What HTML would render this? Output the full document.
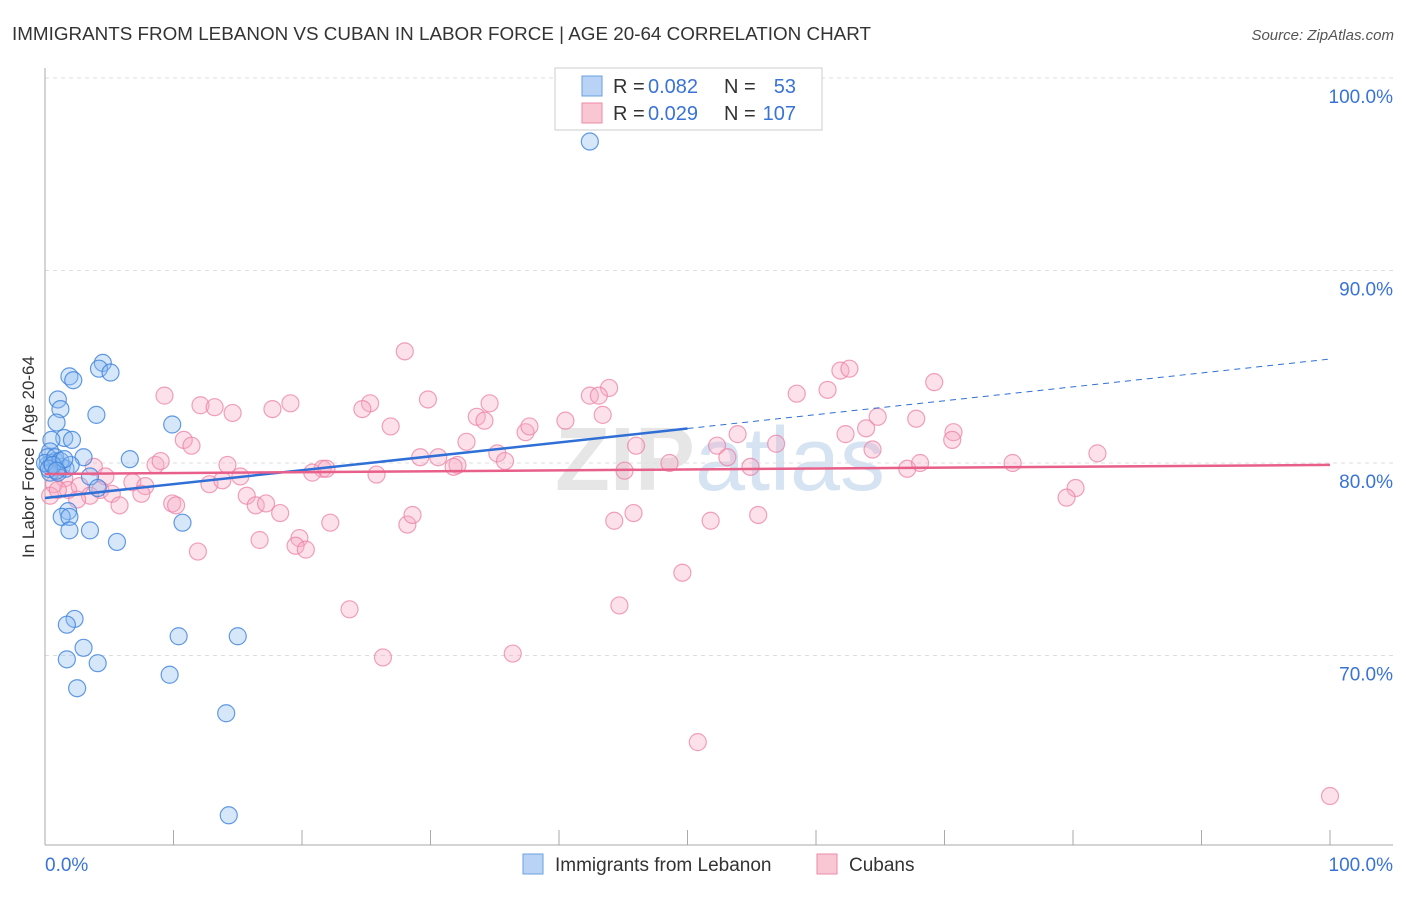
<!DOCTYPE html>
<html><head><meta charset="utf-8"><style>
body{margin:0;background:#fff;font-family:"Liberation Sans",sans-serif}
svg text{font-family:"Liberation Sans",sans-serif}
</style></head><body>
<svg id="c" width="1406" height="892">
<text x="12" y="40" font-size="18" fill="#333" textLength="859" lengthAdjust="spacingAndGlyphs">IMMIGRANTS FROM LEBANON VS CUBAN IN LABOR FORCE | AGE 20-64 CORRELATION CHART</text>
<text x="1394" y="40" font-size="15" fill="#555" text-anchor="end" font-style="italic">Source: ZipAtlas.com</text>
<text x="720" y="490" font-size="90" fill="#e6e6e6" text-anchor="middle" font-weight="bold" font-family="Liberation Serif">ZIP<tspan fill="#d5e3f3" font-family="Liberation Sans" font-weight="normal">atlas</tspan></text>
<g id="grid"></g><g id="marks"></g>
<text transform="translate(34,457) rotate(-90)" font-size="17" fill="#333" text-anchor="middle">In Labor Force | Age 20-64</text>
<g>
<rect x="555" y="68" width="267" height="62" fill="#fff" stroke="#ccc"/>
<rect x="582" y="76" width="20" height="20" fill="#b8d3f5" stroke="#6a9fe0"/>
<rect x="582" y="103" width="20" height="20" fill="#f9c6d4" stroke="#ec8aa7"/>
<text x="613" y="93" font-size="20" fill="#333">R =</text><text x="648" y="93" font-size="20" fill="#3a73d6">0.082</text>
<text x="724" y="93" font-size="20" fill="#333">N =</text><text x="796" y="93" font-size="20" fill="#3a73d6" text-anchor="end">53</text>
<text x="613" y="120" font-size="20" fill="#333">R =</text><text x="648" y="120" font-size="20" fill="#3a73d6">0.029</text>
<text x="724" y="120" font-size="20" fill="#333">N =</text><text x="796" y="120" font-size="20" fill="#3a73d6" text-anchor="end">107</text>
</g>
<g>
<rect x="523" y="854" width="20" height="20" fill="#b8d3f5" stroke="#6a9fe0"/>
<text x="555" y="871" font-size="19" fill="#333">Immigrants from Lebanon</text>
<rect x="817" y="854" width="20" height="20" fill="#f9c6d4" stroke="#ec8aa7"/>
<text x="849" y="871" font-size="19" fill="#333">Cubans</text>
</g>
</svg>
<script>
const yTicks=[100,90,80,70];
const xTickLabels=["0.0%","100.0%"];
const blueX=[42.4,4.5,4.2,5.1,1.9,2.2,1.0,1.2,4.0,0.9,9.9,1.5,2.1,0.5,6.6,3.0,0.4,0.8,1.3,0.2,0.5,1.6,3.5,4.1,1.8,1.3,1.9,10.7,1.9,3.5,5.6,2.3,1.7,10.4,15.0,3.0,1.7,4.1,9.7,2.5,14.1,14.3,0.2,0.4,1.0,0.0,0.8,1.2,2.0,0.3,0.6,1.5,0.9];
const blueY=[96.7,85.2,84.9,84.7,84.5,84.3,83.3,82.8,82.5,82.1,82.0,81.3,81.2,81.2,80.2,80.3,80.6,80.1,79.8,79.9,80.0,79.7,79.3,78.7,77.5,77.2,77.2,76.9,76.5,76.5,75.9,71.9,71.6,71.0,71.0,70.4,69.8,69.6,69.0,68.3,67.0,61.7,80.3,79.5,79.5,80.0,80.3,80.1,79.9,79.7,79.9,80.2,79.6];
const pinkX=[28.0,9.3,29.8,34.6,43.9,42.4,43.1,17.7,12.1,13.2,14.6,19.1,25.3,24.7,33.6,34.2,40.5,43.4,26.9,37.4,37.7,58.5,60.9,61.9,62.6,69.2,64.8,67.8,63.9,70.7,70.6,62.3,53.9,52.3,56.9,46.0,32.8,10.8,11.4,8.6,9.0,14.2,21.6,20.8,21.9,25.8,29.2,30.6,32.1,31.8,35.2,35.8,45.1,48.6,53.1,54.9,64.4,67.1,68.1,75.3,81.9,80.2,79.5,3.8,4.7,1.5,0.7,1.8,2.7,3.5,4.3,5.2,5.8,6.8,7.8,7.5,9.9,10.2,12.8,13.8,15.2,15.7,16.4,17.2,18.3,16.7,19.8,19.5,20.3,22.2,11.9,28.2,28.6,44.3,45.8,51.8,55.5,49.6,44.7,23.7,26.3,36.4,50.8,100.0,0.4,1.0,2.5];
const pinkY=[85.8,83.5,83.3,83.1,83.9,83.5,83.5,82.8,83.0,82.9,82.6,83.1,83.1,82.8,82.4,82.2,82.2,82.5,81.9,81.6,81.9,83.6,83.8,84.8,84.9,84.2,82.4,82.3,81.8,81.6,81.2,81.5,81.5,80.9,81.0,80.9,81.1,81.2,80.9,79.9,80.1,79.9,79.7,79.5,79.7,79.4,80.3,80.3,79.9,79.8,80.5,80.1,79.6,80.0,80.3,79.8,80.7,79.7,80.0,80.0,80.5,78.7,78.2,79.8,79.3,79.2,78.9,78.6,78.8,78.3,78.6,78.4,77.8,79.0,78.8,78.4,77.9,77.8,78.9,79.1,79.3,78.3,77.8,77.9,77.4,76.0,76.1,75.7,75.5,76.9,75.4,76.8,77.3,77.0,77.4,77.0,77.3,74.3,72.6,72.4,69.9,70.1,65.5,62.7,78.3,78.6,78.1];
const blueLine=[78.18,85.4];
const pinkLine=[79.43,79.9];
const NS="http://www.w3.org/2000/svg";
const xs=v=>45+v*12.85, ys=v=>78+(100-v)*19.25;
function mk(t,a,p){const e=document.createElementNS(NS,t);for(const k in a)e.setAttribute(k,a[k]);p.appendChild(e);return e;}
const g=document.getElementById('grid'),m=document.getElementById('marks');
yTicks.forEach(t=>{const l=mk('line',{x1:45,x2:1393,y1:ys(t),y2:ys(t),stroke:'#ddd','stroke-dasharray':'4,4'},g);


const tx=mk('text',{x:1393,y:ys(t)+25,'font-size':19,fill:'#3a73d6','text-anchor':'end'},g);tx.textContent=t.toFixed(1)+'%';

});
mk('line',{x1:45,x2:45,y1:68,y2:845,stroke:'#aaa'},g);
mk('line',{x1:45,x2:1393,y1:845,y2:845,stroke:'#aaa'},g);
for(let i=1;i<=10;i++){const x=xs(i*10);mk('line',{x1:x,x2:x,y1:830,y2:845,stroke:'#aaa'},g);}
[[0,'start',45],[1,'end',1393]].forEach(([i,a,x])=>{const t=mk('text',{x:x,y:871,'font-size':19,fill:'#3a73d6','text-anchor':a},g);t.textContent=xTickLabels[i];

});
pinkX.forEach((v,i)=>{const c=mk('circle',{cx:xs(v),cy:ys(pinkY[i]),r:8.5,fill:'rgba(246,170,195,0.35)',stroke:'rgba(236,130,165,0.75)','stroke-width':1.2},m);

});
blueX.forEach((v,i)=>{const c=mk('circle',{cx:xs(v),cy:ys(blueY[i]),r:8.5,fill:'rgba(140,185,240,0.35)',stroke:'rgba(60,130,220,0.8)','stroke-width':1.2},m);

});
const by=x=>blueLine[0]+(blueLine[1]-blueLine[0])*x/100;
let l1=mk('line',{x1:xs(0),y1:ys(by(0)),x2:xs(50),y2:ys(by(50)),stroke:'#2f6fd6','stroke-width':2.5},m);


let l2=mk('line',{x1:xs(50),y1:ys(by(50)),x2:xs(100),y2:ys(by(100)),stroke:'#2f6fd6','stroke-width':1,'stroke-dasharray':'6,5'},m);


let l3=mk('line',{x1:xs(0),y1:ys(pinkLine[0]),x2:xs(100),y2:ys(pinkLine[1]),stroke:'#e8608a','stroke-width':2.5},m);


</script>
</body></html>
